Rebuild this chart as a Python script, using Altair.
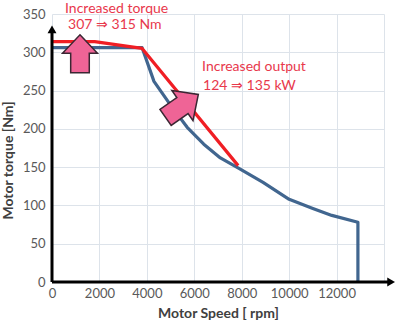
import altair as alt
import pandas as pd

# Data
blue_speed = [0, 3800, 4300, 5000, 5700, 6400, 7100, 7900, 8900, 10000, 11000, 11800, 12900, 12900]
blue_torque = [306, 306, 262, 231, 202, 180, 162, 148, 130, 108, 96, 87, 78, 0]

red_speed = [0, 1800, 3800, 7850]
red_torque = [314, 314, 305, 152]

x_ticks = [0, 2000, 4000, 6000, 8000, 10000, 12000, 14000]
y_ticks = [0, 50, 100, 150, 200, 250, 300, 350]

note_x = [550, 675, 6330, 6370]
note_y = [356, 336, 281, 256]
note_text = ["Increased torque", "307 \u21d2 315 Nm", "Increased output", "124 \u21d2 135 kW"]

arrow_x = [1180, 5480]
arrow_y = [298, 230]
arrow_angle = [0, 55]
arrow_size = [1440, 1600]

blue_df = pd.DataFrame({"speed": blue_speed, "torque": blue_torque, "i": range(len(blue_speed))})
red_df = pd.DataFrame({"speed": red_speed, "torque": red_torque, "i": range(len(red_speed))})
note_df = pd.DataFrame({"x": note_x, "y": note_y, "t": note_text})
arrow_df = pd.DataFrame({"x": arrow_x, "y": arrow_y, "a": arrow_angle, "s": arrow_size})

xs = alt.Scale(domain=[0, 14000], nice=False, zero=False)
ys = alt.Scale(domain=[0, 350], nice=False, zero=False)

FONT = "Lato"

x_axis = alt.Axis(
    values=x_ticks, grid=True, gridColor="#dde3ea", gridWidth=1, ticks=False, domain=False,
    labelExpr="datum.value > 12000 ? '' : datum.label", labelFlush=False, labelOverlap=False,
    labelFont=FONT, labelFontSize=13, labelColor="#595959", labelPadding=5,
    title="Motor Speed [ rpm]", titleFont=FONT, titleFontSize=14, titleFontWeight="bold",
    titleColor="#404040", titleY=31, titleBaseline="middle", format="d",
)
y_axis = alt.Axis(
    values=y_ticks, grid=True, gridColor="#dde3ea", gridWidth=1, ticks=False, domain=False,
    labelOverlap=False, labelFlush=False,
    labelFont=FONT, labelFontSize=13, labelColor="#595959", labelPadding=7,
    title="Motor torque [Nm]", titleFont=FONT, titleFontSize=14, titleFontWeight="bold",
    titleColor="#404040", titleX=-44, titleY=146, titleAngle=270, titleAlign="center",
    titleBaseline="middle",
)


def X(field=None, datum=None):
    if field is not None:
        return alt.X(field, scale=xs, axis=x_axis)
    return alt.X(datum=datum, scale=xs, axis=x_axis)


def Y(field=None, datum=None):
    if field is not None:
        return alt.Y(field, scale=ys, axis=y_axis)
    return alt.Y(datum=datum, scale=ys, axis=y_axis)


blue = alt.Chart(blue_df).mark_line(color="#41668f", strokeWidth=3.2, strokeJoin="round").encode(
    x=X("speed:Q"), y=Y("torque:Q"), order="i:Q",
)
red = alt.Chart(red_df).mark_line(color="#f01e24", strokeWidth=3.2, strokeJoin="round").encode(
    x=X("speed:Q"), y=Y("torque:Q"), order="i:Q",
)

x_axis_line = alt.Chart().mark_rule(color="#000000", strokeWidth=3).encode(
    x=X(datum=0), x2=alt.X2(datum=14300), y=Y(datum=0)
)
y_axis_line = alt.Chart().mark_rule(color="#000000", strokeWidth=3).encode(
    x=X(datum=0), y=Y(datum=0), y2=alt.Y2(datum=330)
)
x_head = alt.Chart().mark_point(shape="triangle-right", filled=True, color="#000000", size=80, opacity=1).encode(
    x=X(datum=14300), y=Y(datum=0)
)
y_head = alt.Chart().mark_point(shape="triangle-up", filled=True, color="#000000", size=80, opacity=1).encode(
    x=X(datum=0), y=Y(datum=330)
)

ARROW = "M0,-1 L0.92,-0.03 L0.49,-0.03 L0.49,1 L-0.49,1 L-0.49,-0.03 L-0.92,-0.03 Z"
arrows = alt.Chart(arrow_df).mark_point(
    shape=ARROW, filled=True, fill="#ef6496", stroke="#3b2733", strokeWidth=1.5, opacity=1,
    fillOpacity=1, strokeJoin="miter",
).encode(
    x=X("x:Q"), y=Y("y:Q"),
    angle=alt.Angle("a:Q", scale=None),
    size=alt.Size("s:Q", scale=None),
)

notes = alt.Chart(note_df).mark_text(
    align="left", baseline="middle", font=FONT, fontSize=14, color="#e8384c"
).encode(
    x=X("x:Q"), y=Y("y:Q"), text="t:N"
)

chart = alt.layer(blue, red, x_axis_line, y_axis_line, x_head, y_head, arrows, notes).properties(
    width=332, height=268, autosize="none",
    padding={"left": 52, "top": 14, "right": 16, "bottom": 42},
    background="#ffffff",
).configure_view(stroke=None)

chart.save("out.html", embed_options={"renderer": "svg", "actions": False})
